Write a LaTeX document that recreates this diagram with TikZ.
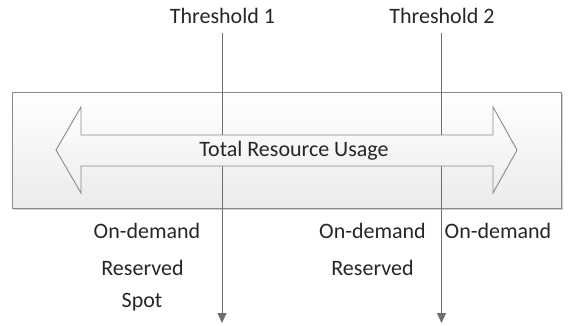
\documentclass[tikz,border=0pt]{standalone}
\usepackage{fontspec}
\setmainfont{Carlito}
\usetikzlibrary{arrows.meta,shadows}
\definecolor{edgegray}{HTML}{8A8A8A}
\definecolor{linegray}{HTML}{6E6E6E}
\definecolor{fillbot}{HTML}{EBEBEB}
\definecolor{shadowgray}{HTML}{B0B0B0}
\tikzset{
  lbl/.style={font=\fontsize{22}{26}\selectfont, text=black!85, inner sep=0pt, anchor=center},
  panel/.style={draw=edgegray, line width=0.9pt, top color=white, bottom color=fillbot,
    drop shadow={shadow xshift=2pt, shadow yshift=-2pt, fill=shadowgray, opacity=0.6}},
  bigarrow/.style={draw=edgegray, line width=0.9pt, top color=white, bottom color=fillbot!90!white, line join=miter},
  thresh/.style={draw=linegray, line width=1pt, -{Triangle[width=9pt,length=10pt]}},
}
\begin{document}
\begin{tikzpicture}[x=1pt,y=-1pt]
\useasboundingbox (0,0) rectangle (573,325);
% panel
\path[panel] (12,92) rectangle (561,208);
% threshold lines
\coordinate (t1s) at (222,33);
\coordinate (t1e) at (222,323);
\coordinate (t2s) at (441.5,33);
\coordinate (t2e) at (441.5,323);
\draw[thresh] (t1s) -- (t1e);
\draw[thresh] (t2s) -- (t2e);
% double arrow
\path[bigarrow] (56,150) -- (81,107) -- (81,135) -- (493,135) -- (493,107) -- (517,150)
  -- (493,193) -- (493,166) -- (81,166) -- (81,193) -- cycle;
% labels
\node[lbl] (total) at (294,150.5) {Total Resource Usage};
\node[lbl] (th1) at (222.5,16) {Threshold 1};
\node[lbl] (th2) at (442,16) {Threshold 2};
\node[lbl] (od1) at (147,231) {On-demand};
\node[lbl] (rs1) at (142.5,268) {Reserved};
\node[lbl] (sp1) at (142,302) {Spot};
\node[lbl] (od2) at (372.5,231) {On-demand};
\node[lbl] (rs2) at (372.5,268) {Reserved};
\node[lbl] (od3) at (498,231) {On-demand};
\end{tikzpicture}
\end{document}
